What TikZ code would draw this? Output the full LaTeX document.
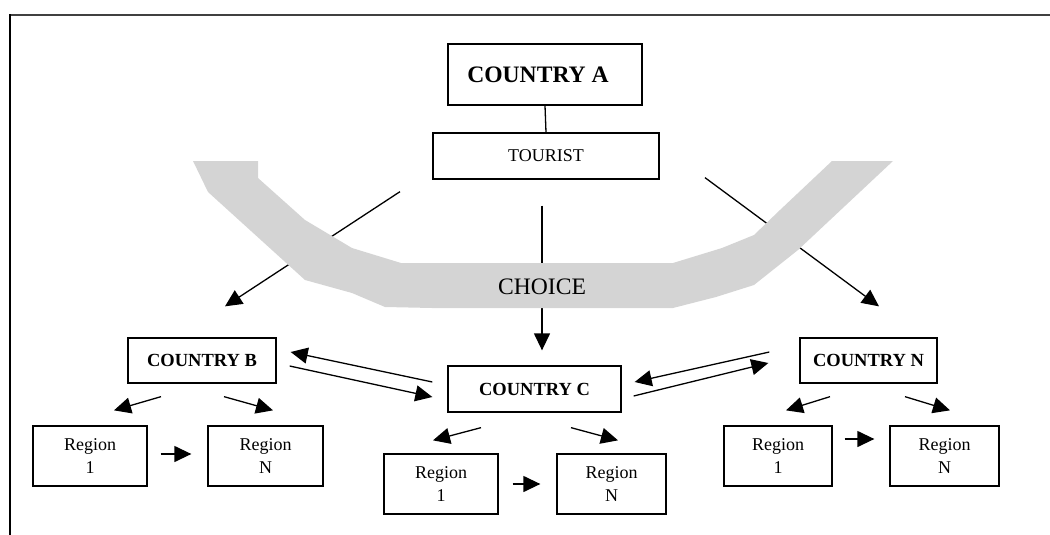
\documentclass[tikz,border=0pt]{standalone}
\usepackage{fontspec}
\setmainfont{Liberation Serif}
\usetikzlibrary{arrows.meta}
\definecolor{bandgray}{RGB}{212,212,212}
\begin{document}
\begin{tikzpicture}[x=1pt,y=-1pt,
  box/.style={draw,line width=1.3pt,rectangle,inner sep=0pt},
  cbox/.style={box,font=\fontsize{18.5}{22}\selectfont\bfseries},
  rbox/.style={box,minimum height=60pt,align=center,font=\fontsize{18}{23}\selectfont},
  arr/.style={line width=1.3pt,-{Triangle[length=17pt,width=16pt]}}]
\useasboundingbox (0,0) rectangle (1050,535);

% Frame
\draw[line width=1.5pt,black!75] (10,15) -- (1050,15);
\draw[line width=2pt] (10,535) -- (10,14.25);

% Top boxes
\node[box,minimum width=194pt,minimum height=61pt,font=\fontsize{23.6}{28}\selectfont\bfseries] (ca) at (545,74.5) {\hspace*{-14pt}COUNTRY A};
\node[box,minimum width=226pt,minimum height=46pt,font=\fontsize{18}{22}\selectfont] (tourist) at (546,156) {TOURIST};
\draw[line width=1.3pt] (ca.south) -- (tourist.north);

% Countries
\node[cbox,minimum width=148pt,minimum height=45pt] (cb) at (202,360.5) {COUNTRY B};
\node[cbox,minimum width=173pt,minimum height=46pt] (cc) at (534.5,389) {COUNTRY C};
\node[cbox,minimum width=137pt,minimum height=45pt] (cn) at (868.5,360.5) {COUNTRY N};

% Regions
\node[rbox,minimum width=114pt] (b1) at (90,456) {Region\\1};
\node[rbox,minimum width=115pt] (bn) at (265.5,456) {Region\\N};
\node[rbox,minimum width=114pt] (c1) at (441,484) {Region\\1};
\node[rbox,minimum width=109pt] (cN) at (611.5,484) {Region\\N};
\node[rbox,minimum width=108pt] (n1) at (778,456) {Region\\1};
\node[rbox,minimum width=109pt] (nn) at (944.5,456) {Region\\N};

% Choice arrows (under the band)
\draw[arr] ([shift={(-146,12)}]tourist.south) -- ([shift={(23,-31)}]cb.north);
\draw[arr] ([shift={(-4,26)}]tourist.south) -- ([shift={(7.5,-15)}]cc.north);
\draw[arr] ([shift={(159,-2)}]tourist.south) -- ([shift={(10.5,-31)}]cn.north);

% Band
\fill[bandgray] (193,161) -- (208,192) -- (305,280) -- (352,293) -- (385,307)
  -- (432,308) -- (673,308) -- (716,297) -- (754,285) -- (798,250) -- (893,161)
  -- (832,161) -- (780,210) -- (754,235) -- (722,248) -- (673,263) -- (401,263)
  -- (352,248) -- (305,220) -- (258,178) -- (258,161) -- cycle;
\node[font=\fontsize{23.6}{28}\selectfont] (choice) at (542,287) {CHOICE};

% Between countries
\draw[arr] ([shift={(-15,-7)}]cc.west) -- ([shift={(14,-8.5)}]cb.east);
\draw[arr] ([shift={(13,5.5)}]cb.east) -- ([shift={(-15,8)}]cc.west);
\draw[arr] ([shift={(-30,-8.5)}]cn.west) -- ([shift={(13,-7)}]cc.east);
\draw[arr] ([shift={(12,7)}]cc.east) -- ([shift={(-31,2.5)}]cn.west);

% Countries to regions
\draw[arr] ([shift={(-41,13)}]cb.south) -- ([shift={(24,-15)}]b1.north);
\draw[arr] ([shift={(22,13)}]cb.south) -- ([shift={(7.5,-15)}]bn.north);
\draw[arr] ([shift={(-53.5,15)}]cc.south) -- ([shift={(-8,-13)}]c1.north);
\draw[arr] ([shift={(36.5,15)}]cc.south) -- ([shift={(6.5,-13)}]cN.north);
\draw[arr] ([shift={(-38.5,13)}]cn.south) -- ([shift={(8,-15)}]n1.north);
\draw[arr] ([shift={(36.5,13)}]cn.south) -- ([shift={(5.5,-15)}]nn.north);

% Region 1 to region N
\draw[arr] ([shift={(13,-2)}]b1.east) -- ([shift={(-16,-2)}]bn.west);
\draw[arr] ([shift={(14,0)}]c1.east) -- ([shift={(-16,0)}]cN.west);
\draw[arr] ([shift={(12,-17)}]n1.east) -- ([shift={(-15,-17)}]nn.west);
\end{tikzpicture}
\end{document}
